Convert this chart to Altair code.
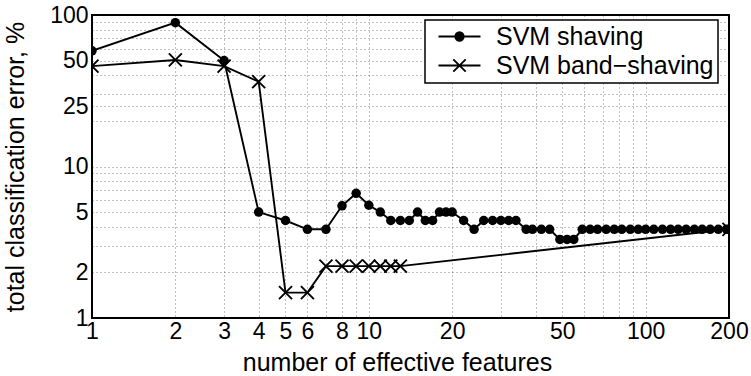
import json
import altair as alt
import pandas as pd

# ---- data ----
shave_n = [1, 2, 3, 4, 5, 6, 7, 8, 9, 10, 11, 12, 13, 14, 15, 16, 17, 18, 19, 20,
           22, 24, 26, 28, 30, 32, 34, 37, 39, 42, 45, 49, 52, 55, 59, 63, 67, 72,
           77, 82, 88, 94, 100, 107, 115, 123, 131, 140, 150, 160, 171, 183, 196, 200]
shave_err = [58, 89, 50, 5.0, 4.4, 3.85, 3.85, 5.5, 6.65, 5.55, 5.0, 4.4, 4.4, 4.4, 5.0, 4.4, 4.4, 5.0, 5.0, 5.0,
             4.4, 3.85, 4.4, 4.4, 4.4, 4.4, 4.4, 3.85, 3.85, 3.85, 3.85, 3.3, 3.3, 3.3, 3.85, 3.85, 3.85, 3.85,
             3.85, 3.85, 3.85, 3.85, 3.85, 3.85, 3.85, 3.85, 3.85, 3.85, 3.85, 3.85, 3.85, 3.85, 3.85, 3.85]

band_n = [1, 2, 3, 4, 5, 6, 7, 8, 9, 10, 11, 12, 13, 200]
band_err = [46, 50.5, 46, 36.3, 1.47, 1.47, 2.2, 2.2, 2.2, 2.2, 2.2, 2.2, 2.2, 3.85]

series_names = ["SVM shaving", "SVM band\u2212shaving"]

x_ticks = [1, 2, 3, 4, 5, 6, 8, 10, 20, 50, 100, 200]
y_ticks = [1, 2, 5, 10, 25, 50, 100]
x_grid = [1, 2, 3, 4, 5, 6, 7, 8, 9, 10, 20, 30, 40, 50, 60, 70, 80, 90, 100, 200]
y_grid = [1, 2, 3, 4, 5, 6, 7, 8, 9, 10, 20, 25, 30, 40, 50, 60, 70, 80, 90, 100]

FONT = "Liberation Sans"

df_shave = pd.DataFrame({"n": shave_n, "err": shave_err, "series": series_names[0]})
df_band = pd.DataFrame({"n": band_n, "err": band_err, "series": series_names[1]})
df_leg = pd.DataFrame({"n": [1000, 1000], "err": [1000, 1000], "series": series_names})

X_PATH = "M-1,-1L1,1M-1,1L1,-1"
# legend glyphs: a line with a (stroke-filled) dot, and a line with an x
LEG_DOT = ("M-2.1,0H2.1"
           "M0.42,0A0.42,0.42,0,1,1,-0.42,0A0.42,0.42,0,1,1,0.42,0Z"
           "M0.28,0A0.28,0.28,0,1,1,-0.28,0A0.28,0.28,0,1,1,0.28,0Z"
           "M0.14,0A0.14,0.14,0,1,1,-0.14,0A0.14,0.14,0,1,1,0.14,0Z"
           "M0.03,0A0.03,0.03,0,1,1,-0.03,0A0.03,0.03,0,1,1,0.03,0Z")
LEG_X = "M-2.1,0H2.1M-0.62,-0.62L0.62,0.62M-0.62,0.62L0.62,-0.62"

x_enc = alt.X(
    "n:Q",
    scale=alt.Scale(type="log", domain=[1, 200], nice=False),
    axis=alt.Axis(
        values=x_grid,
        labelExpr="indexof(%s, datum.value) >= 0 ? format(datum.value, 'd') : ''" % json.dumps(x_ticks),
        title="number of effective features",
        labelPadding=2,
        titleX=305,
        titleY=52,
        titleBaseline="alphabetic",
        titleAlign="center",
    ),
)
y_enc = alt.Y(
    "err:Q",
    scale=alt.Scale(type="log", domain=[1, 100], nice=False),
    axis=alt.Axis(
        values=y_grid,
        labelExpr="indexof(%s, datum.value) >= 0 ? format(datum.value, 'd') : ''" % json.dumps(y_ticks),
        title="total classification error, %",
        labelPadding=4,
        titlePadding=21,
    ),
)

band_line = alt.Chart(df_band).mark_line(color="black", strokeWidth=1.9, clip=True).encode(x=x_enc, y=y_enc)
band_pts = alt.Chart(df_band).mark_point(
    shape=X_PATH, filled=False, size=169, color="black", strokeWidth=1.9, opacity=1, clip=True
).encode(x=x_enc, y=y_enc)
shave_line = alt.Chart(df_shave).mark_line(color="black", strokeWidth=1.9, clip=True).encode(x=x_enc, y=y_enc)
shave_pts = alt.Chart(df_shave).mark_point(
    shape="circle", filled=True, size=90, color="black", opacity=1, clip=True
).encode(x=x_enc, y=y_enc)

legend_layer = alt.Chart(df_leg).mark_point(
    filled=False, color="black", strokeWidth=1.9, opacity=1, clip=True
).encode(
    x=x_enc,
    y=y_enc,
    shape=alt.Shape(
        "series:N",
        scale=alt.Scale(domain=series_names, range=[LEG_DOT, LEG_X]),
        legend=alt.Legend(
            orient="none",
            legendX=333,
            legendY=5,
            title=None,
            labelExpr="datum.label + '\u00a0\u00a0'",
        ),
    ),
)

chart = alt.layer(band_line, band_pts, shave_line, shave_pts, legend_layer).properties(
    width=637,
    height=303,
    autosize=alt.AutoSizeParams(type="none"),
    padding={"left": 92, "top": 15, "right": 22, "bottom": 58},
).configure_view(
    stroke="black", strokeWidth=2
).configure_axis(
    domain=False,
    ticks=False,
    grid=True,
    gridColor="black",
    gridDash=[1, 3],
    gridOpacity=0.5,
    gridWidth=1,
    labelFont=FONT,
    labelFontSize=23,
    labelColor="black",
    labelFlush=False,
    labelOverlap=False,
    titleFont=FONT,
    titleFontSize=25,
    titleFontWeight="normal",
    titleColor="black",
).configure_legend(
    padding=4,
    strokeColor="black",
    fillColor="white",
    strokeWidth=1.5,
    cornerRadius=0,
    symbolSize=400,
    symbolOffset=18,
    labelOffset=24,
    symbolStrokeColor="black",
    symbolStrokeWidth=1.9,
    labelFont=FONT,
    labelFontSize=25,
    labelColor="black",
    labelLimit=400,
    rowPadding=3,
)

chart.save("out.html", embed_options={"renderer": "svg", "actions": False})
